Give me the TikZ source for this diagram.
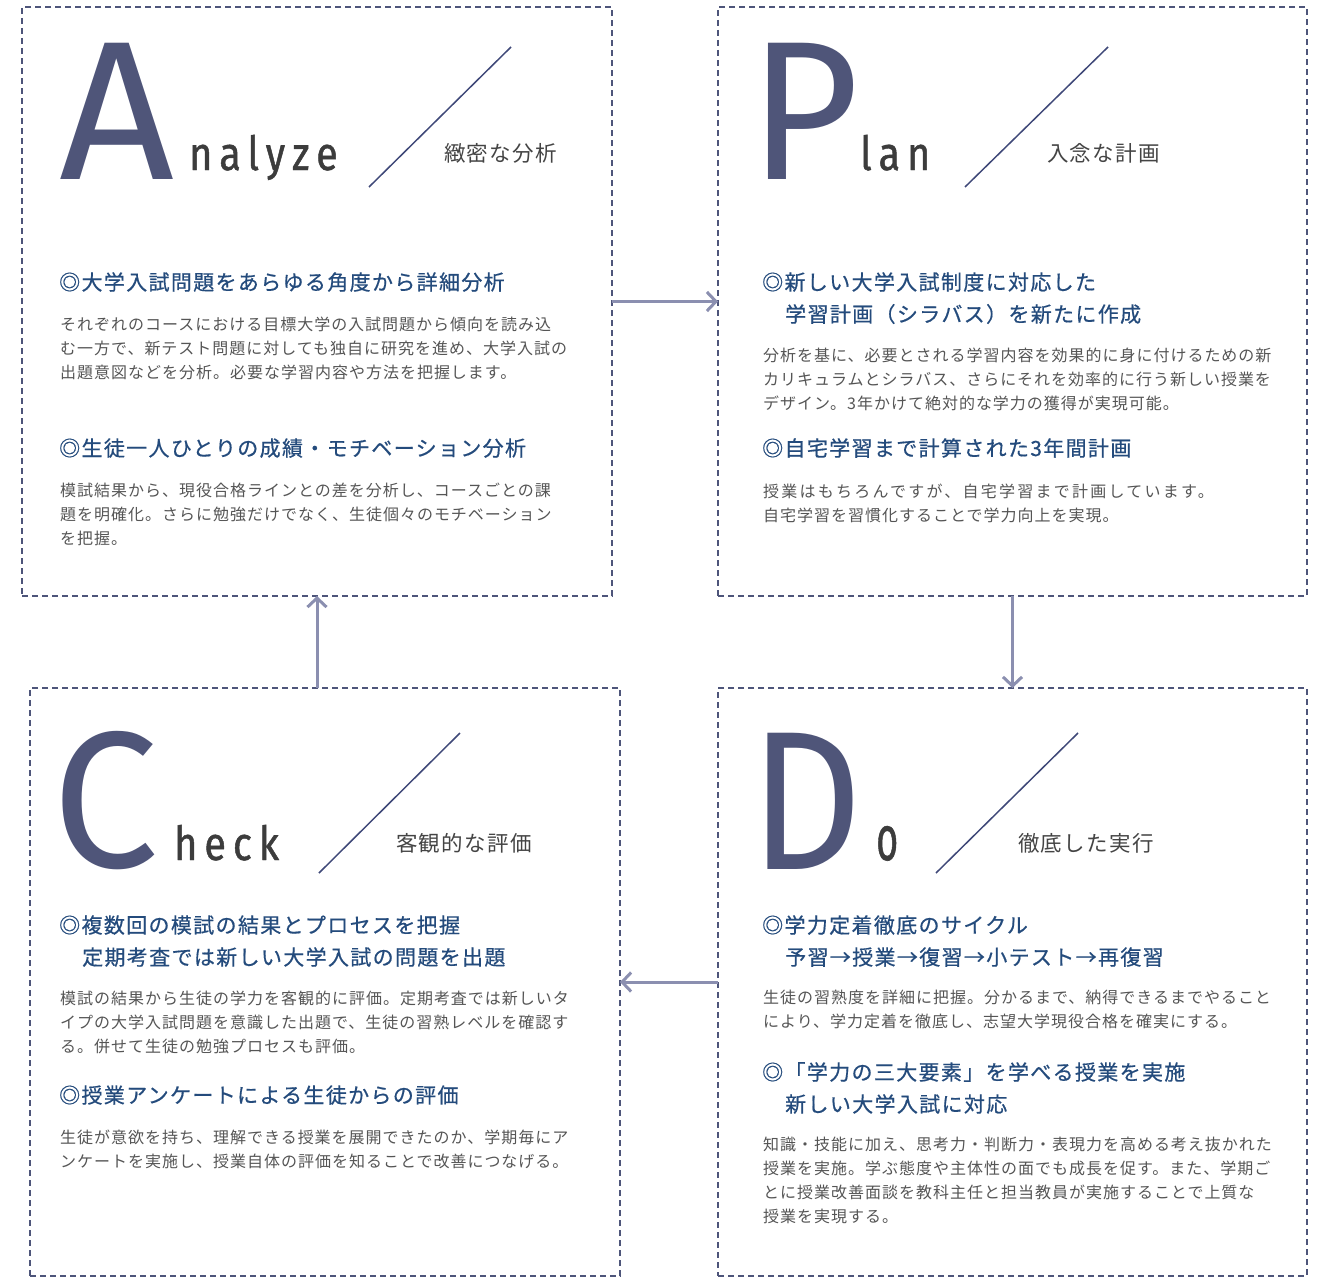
\documentclass[tikz,border=0pt]{standalone}
\usepackage{fontspec}
\usepackage{graphicx}
\usetikzlibrary{arrows.meta}
\setmainfont{Noto Sans CJK JP}
\newfontfamily\jpbody[LetterSpace=6.2]{Noto Sans CJK JP}
\newfontfamily\jphead[LetterSpace=6.4,FakeBold=0.6]{Noto Sans CJK JP}
\newfontfamily\jpsub[LetterSpace=6]{Noto Sans CJK JP}
\IfFontExistsTF{FiraSans-Light.otf}
  {\newfontfamily\latinbig{FiraSans-Light.otf}}
  {\newfontfamily\latinbig{Fira Sans}}
\newfontfamily\latinsm[FakeStretch=0.84,LetterSpace=15,FakeBold=1]{Fira Sans}
\definecolor{boxc}{HTML}{4E557A}
\definecolor{arrc}{HTML}{8B8FB0}
\definecolor{bigc}{HTML}{4F5579}
\definecolor{smallc}{HTML}{3C3C3C}
\definecolor{subc}{HTML}{444444}
\definecolor{headc}{HTML}{244B7C}
\definecolor{bodyc}{HTML}{555555}
\definecolor{slashc}{HTML}{3F4878}
\tikzset{
  panel/.style={draw=boxc, line width=1.6pt, dash pattern=on 6pt off 4pt, inner sep=0, outer sep=0},
  flow/.style={draw=arrc, line width=3pt, -{Straight Barb[length=9pt,width=19pt]}},
  bigletter/.style={anchor=south west, inner sep=0, text=bigc, font=\latinbig},
  smallword/.style={anchor=base west, inner sep=0, text=smallc, font={\latinsm\fontsize{47}{47}\selectfont}},
  slash/.style={draw=slashc, line width=1.5pt},
  subtitle/.style={anchor=base west, inner sep=0, text=subc, font={\jpsub\fontsize{21.5}{26}\selectfont}},
  heading/.style={anchor=base west, inner sep=0, text=headc, font={\jphead\fontsize{21}{32}\selectfont}},
  bodytext/.style={anchor=base west, inner sep=0, text=bodyc, font={\jpbody\fontsize{16}{24}\selectfont}},
}
\newcommand{\pblock}[1]{\parbox[t]{535pt}{\raggedright #1}}
\begin{document}
\begin{tikzpicture}[x=1pt,y=-1pt]
\useasboundingbox (0,0) rectangle (1323,1277);
% panels
\node[panel, minimum width=590pt, minimum height=589pt] (A) at (317,301.5) {};
\node[panel, minimum width=589pt, minimum height=589pt] (P) at (1012.5,301.5) {};
\node[panel, minimum width=590pt, minimum height=588pt] (C) at (325,982) {};
\node[panel, minimum width=589pt, minimum height=588pt] (D) at (1012.5,982) {};
% cycle arrows
\draw[flow] (A.east) -- (P.west);
\draw[flow] (P.south) -- (D.north);
\draw[flow] (D.west) -- (C.east);
\draw[flow] (A.south |- C.north) -- (A.south);

% ---------- Analyze ----------
\node[bigletter] (LA) at (59,180) {\resizebox{115pt}{136pt}{A}};
\node[smallword] (wA) at (189,170) {nalyze};
\draw[slash] (369,187) -- (511,47);
\node[subtitle] (sA) at (444,161) {緻密な分析};
\node[heading] (hA1) at (59,290) {\pblock{◎大学入試問題をあらゆる角度から詳細分析}};
\node[bodytext] (bA1) at (60,330) {\pblock{それぞれのコースにおける目標大学の入試問題から傾向を読み込\\む一方で、新テスト問題に対しても独自に研究を進め、大学入試の\\出題意図などを分析。必要な学習内容や方法を把握します。}};
\node[heading] (hA2) at (59,456) {\pblock{◎生徒一人ひとりの成績・モチベーション分析}};
\node[bodytext] (bA2) at (60,496) {\pblock{模試結果から、現役合格ラインとの差を分析し、コースごとの課\\題を明確化。さらに勉強だけでなく、生徒個々のモチベーション\\を把握。}};

% ---------- Plan ----------
\node[bigletter] (LP) at (749,180) {\resizebox{110pt}{136pt}{P}};
\node[smallword] (wP) at (860,170) {lan};
\draw[slash] (965,187) -- (1108,47);
\node[subtitle] (sP) at (1047,161) {入念な計画};
\node[heading] (hP1) at (762,290) {\pblock{◎新しい大学入試制度に対応した\\\hspace*{23pt}学習計画（シラバス）を新たに作成}};
\node[bodytext] (bP1) at (763,361) {\pblock{分析を基に、必要とされる学習内容を効果的に身に付けるための新\\カリキュラムとシラバス、さらにそれを効率的に行う新しい授業を\\デザイン。3年かけて絶対的な学力の獲得が実現可能。}};
\node[heading] (hP2) at (762,456) {\pblock{◎自宅学習まで計算された3年間計画}};
\node[bodytext] (bP2) at (763,497) {\pblock{{\addfontfeature{LetterSpace=14}授業はもちろんですが、自宅学習まで計画しています。}\\自宅学習を習慣化することで学力向上を実現。}};

% ---------- Check ----------
\node[bigletter] (LC) at (52,870) {\resizebox{106pt}{136pt}{C}};
\node[smallword] (wC) at (174,860) {heck};
\draw[slash] (319,873) -- (460,733);
\node[subtitle] (sC) at (396,851) {客観的な評価};
\node[heading] (hC1) at (59,933) {\pblock{◎複数回の模試の結果とプロセスを把握\\\hspace*{23pt}定期考査では新しい大学入試の問題を出題}};
\node[bodytext] (bC1) at (60,1004) {\pblock{模試の結果から生徒の学力を客観的に評価。定期考査では新しいタ\\イプの大学入試問題を意識した出題で、生徒の習熟レベルを確認す\\る。併せて生徒の勉強プロセスも評価。}};
\node[heading] (hC2) at (59,1103) {\pblock{◎授業アンケートによる生徒からの評価}};
\node[bodytext] (bC2) at (60,1143) {\pblock{生徒が意欲を持ち、理解できる授業を展開できたのか、学期毎にア\\ンケートを実施し、授業自体の評価を知ることで改善につなげる。}};

% ---------- Do ----------
\node[bigletter] (LD) at (750,870) {\resizebox{112pt}{136pt}{D}};
\node[anchor=south west, inner sep=0, text=smallc, font={\latinsm}] (wD) at (876,861) {\resizebox{22pt}{34pt}{o}};
\draw[slash] (936,873) -- (1078,733);
\node[subtitle] (sD) at (1018,851) {徹底した実行};
\node[heading] (hD1) at (762,933) {\pblock{◎学力定着徹底のサイクル\\\hspace*{23pt}予習→授業→復習→小テスト→再復習}};
\node[bodytext] (bD1) at (763,1003) {\pblock{生徒の習熟度を詳細に把握。分かるまで、納得できるまでやること\\により、学力定着を徹底し、志望大学現役合格を確実にする。}};
\node[heading] (hD2) at (762,1080) {\pblock{◎「学力の三大要素」を学べる授業を実施\\\hspace*{23pt}新しい大学入試に対応}};
\node[bodytext] (bD2) at (763,1150) {\pblock{知識・技能に加え、思考力・判断力・表現力を高める考え抜かれた\\授業を実施。学ぶ態度や主体性の面でも成長を促す。また、学期ご\\とに授業改善面談を教科主任と担当教員が実施することで上質な\\授業を実現する。}};
\end{tikzpicture}
\end{document}
